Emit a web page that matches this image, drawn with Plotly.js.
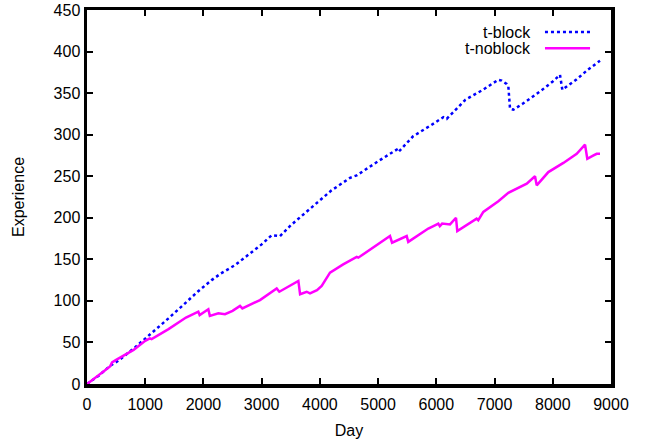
<!DOCTYPE html>
<html>
<head>
<meta charset="utf-8">
<script src="https://cdn.plot.ly/plotly-3.0.1.min.js"></script>
<style>html,body{margin:0;padding:0;background:#fff;}#chart{width:646px;height:440px;}</style>
</head>
<body>
<div id="chart"></div>
<script>
const seriesNames = ["t-block", "t-noblock"];

const blockDays = [0,200,400,538,824,1111,1400,1683,1900,2141,2300,2542,2828,3000,3172,3315,3500,3945,4200,4517,4632,5000,5319,5347,5600,5900,6120,6178,6500,6800,7065,7122,7208,7237,7266,7323,7500,7800,8000,8124,8164,8400,8600,8811];
const blockExp  = [0,10,22,28,44,61,79,97,111,125,133,143,159,168,179,178,191,217,233,248,251,268,282,279,298,311,321,319,342,354,366,365,361,358,331,330,338,353,364,372,354,366,378,389];

const noblockDays = [0,100,200,300,395,430,500,650,800,1000,1080,1110,1400,1700,1912,1935,2084,2110,2256,2370,2500,2628,2668,2971,3258,3303,3630,3660,3773,3830,3950,4031,4100,4174,4400,4632,4660,5033,5204,5240,5491,5518,5862,5950,6034,6060,6100,6235,6338,6360,6692,6720,6807,7065,7237,7553,7695,7724,7924,8182,8411,8554,8593,8700,8755,8811];
const noblockExp  = [0,5,10,16,21,26,29,35,41,52,55,54,66,80,87,83,90,82,85,84,88,94,91,101,115,111,124,108,111,109,113,118,126,134,144,153,152,170,178,170,178,171,187,190,193,190,193,192,200,184,199,197,207,220,230,241,250,239,255,266,277,288,271,275,277,277];

const xTickVals = [0,1000,2000,3000,4000,5000,6000,7000,8000,9000];
const yTickVals = [0,50,100,150,200,250,300,350,400,450];

const colors = ["#0000ff", "#ff00ff"];

const traces = [
  {x: blockDays, y: blockExp, name: seriesNames[0], type: "scatter", mode: "lines",
   line: {color: colors[0], width: 2.5, dash: "dot"}, showlegend: false},
  {x: noblockDays, y: noblockExp, name: seriesNames[1], type: "scatter", mode: "lines",
   line: {color: colors[1], width: 2.5}, showlegend: false}
];

const fontFam = "Liberation Sans, Arial, Helvetica, sans-serif";
const axisCommon = {
  showgrid: false, zeroline: false, showline: true, linecolor: "#000", linewidth: 3.5,
  mirror: "allticks", ticks: "inside", ticklen: 6, tickwidth: 2, tickcolor: "#000",
  tickfont: {family: fontFam, size: 16, color: "#000"}
};

const layout = {
  width: 646, height: 440,
  margin: {l: 87, r: 35, t: 10, b: 56},
  paper_bgcolor: "#fff", plot_bgcolor: "#fff",
  xaxis: Object.assign({}, axisCommon, {
    range: [0, 9000], tickvals: xTickVals, ticktext: xTickVals.map(String),
    ticklabelstandoff: 3,
    title: {text: "Day", font: {family: fontFam, size: 16, color: "#000"}, standoff: 14}
  }),
  yaxis: Object.assign({}, axisCommon, {
    range: [0, 450], tickvals: yTickVals, ticktext: yTickVals.map(String),
    title: {text: "Experience", font: {family: fontFam, size: 16, color: "#000"}, standoff: 26}
  }),
  annotations: [
    {xref: "paper", yref: "paper", x: 0.851, y: 0.941, xanchor: "right", yanchor: "middle",
     text: seriesNames[0], showarrow: false, font: {family: fontFam, size: 16, color: "#000"}},
    {xref: "paper", yref: "paper", x: 0.851, y: 0.898, xanchor: "right", yanchor: "middle",
     text: seriesNames[1], showarrow: false, font: {family: fontFam, size: 16, color: "#000"}}
  ],
  shapes: [
    {type: "line", xref: "paper", yref: "paper", x0: 0.874, x1: 0.960, y0: 0.941, y1: 0.941,
     line: {color: colors[0], width: 2.5, dash: "dot"}},
    {type: "line", xref: "paper", yref: "paper", x0: 0.874, x1: 0.960, y0: 0.898, y1: 0.898,
     line: {color: colors[1], width: 2.5}}
  ]
};

Plotly.newPlot("chart", traces, layout, {displayModeBar: false, staticPlot: true});
</script>
</body>
</html>
